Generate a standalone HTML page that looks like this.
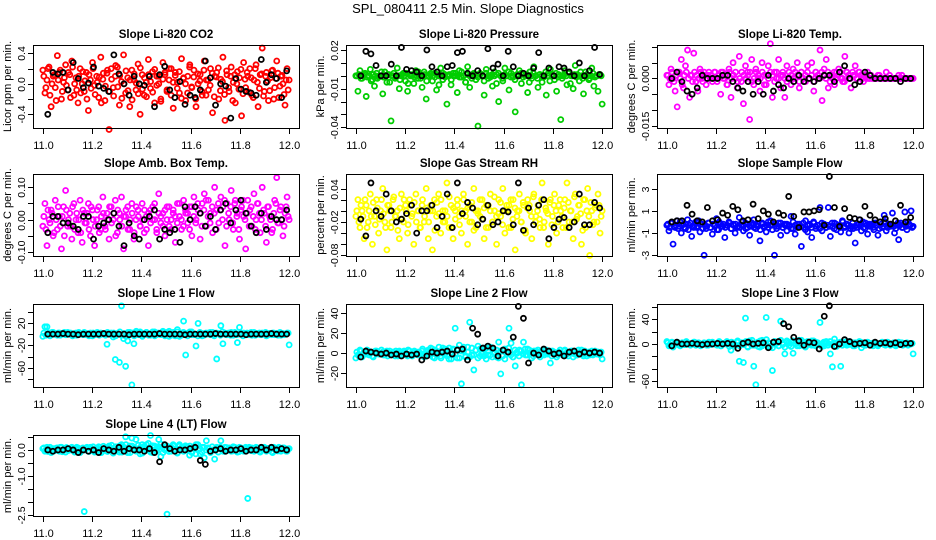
<!DOCTYPE html>
<html><head><meta charset="utf-8"><style>
html,body{margin:0;padding:0;background:#fff;}
svg{display:block;font-family:"Liberation Sans",Arial,sans-serif;}
</style></head><body>
<svg id="fig" width="936" height="540" viewBox="0 0 936 540">
<rect width="936" height="540" fill="#fff"/>
<text x="468" y="13" font-size="13" text-anchor="middle">SPL_080411  2.5 Min. Slope Diagnostics</text>
</svg>
<script>
// ---- data ----
const xTickLabels = ["11.0","11.2","11.4","11.6","11.8","12.0"];
const xTickValues = [11.0,11.2,11.4,11.6,11.8,12.0];
const co2Color = [0.18,-0.12,0.05,0.22,-0.3,0.1,-0.05,0.37,0.15,-0.2,0.02,0.25,-0.08,0.12,0.3,-0.15,0.08,-0.25,0.2,0.0,
-0.1,0.15,-0.35,0.05,0.28,-0.02,0.1,-0.18,0.35,0.06,-0.22,0.14,-0.6,0.2,-0.05,0.1,0.22,-0.28,0.03,0.38,
-0.12,0.08,-0.3,0.18,0.05,-0.08,0.26,-0.4,0.12,-0.15,0.02,0.32,-0.06,0.16,-0.25,0.1,0.0,-0.2,0.28,0.12,
-0.1,0.05,0.2,-0.32,0.15,0.02,-0.12,0.33,0.08,-0.22,0.1,0.25,-0.05,0.18,-0.3,0.0,0.12,-0.15,0.3,0.05,
-0.08,0.2,-0.38,0.1,0.15,-0.2,0.06,0.35,-0.48,0.12,-0.1,0.22,0.02,-0.25,0.16,0.08,-0.42,0.28,-0.05,0.1,
0.2,-0.15,0.05,0.25,-0.3,0.12,0.47,-0.1,0.15,-0.22,0.08,0.18,-0.05,0.3,-0.18,0.1,0.0,-0.28,0.2,0.05];
const co2Color2 = [0.1,-0.05,0.2,-0.15,0.0,0.12,-0.22,0.05,0.18,-0.1,0.08,-0.02,0.15,-0.18,0.22,0.0,-0.08,0.1,-0.12,0.16,
0.04,-0.2,0.12,-0.06,0.2,-0.14,0.02,0.09,-0.25,0.14,-0.03,0.18,-0.1,0.06,-0.16,0.24,-0.04,0.11,-0.19,0.0,
0.17,-0.09,0.05,-0.21,0.13,0.01,-0.13,0.21,-0.07,0.08,-0.17,0.12,0.03,-0.11,0.19,-0.02,0.1,-0.23,0.06,0.15,
-0.08,0.2,-0.15,0.02,0.11,-0.06,0.16,-0.19,0.07,0.0,-0.12,0.22,-0.04,0.09,-0.2,0.13,0.04,-0.1,0.18,-0.15,
0.05,-0.02,0.14,-0.17,0.09,0.21,-0.09,0.03,-0.14,0.17,-0.05,0.1,-0.22,0.12,0.0,-0.07,0.19,-0.13,0.06,0.15,
-0.11,0.08,-0.18,0.2,0.02,-0.06,0.13,-0.16,0.1,0.04,-0.09,0.17,-0.2,0.07,0.14,-0.03,0.11,-0.14,0.05,-0.08];
const co2Black = [-0.4,0.15,0.13,0.15,-0.08,0.28,0.07,-0.05,0.01,0.22,-0.03,-0.06,-0.1,0.38,0.13,0.0,-0.15,0.1,0.0,-0.02,0.1,-0.3,0.12,0.23,-0.08,-0.18,0.03,-0.27,-0.15,-0.18,-0.08,0.3,0.08,-0.28,0.0,-0.03,-0.45,0.07,-0.07,-0.1,-0.12,-0.15,0.32,0.02,0.12,0.07,-0.18,0.17];
const presColor = [0,-0.012,0.004,-0.002,0.001,-0.016,0.0,0.005,-0.003,-0.008,0.002,-0.001,0.0,-0.014,0.003,-0.005,0.001,-0.035,0.0,-0.002,
0.006,-0.01,0.0,0.002,-0.004,-0.012,0.001,0,-0.006,0.004,-0.002,0.0,-0.009,0.003,-0.018,0.0,0.001,-0.004,0.002,-0.011,
0,0.006,-0.003,0.001,-0.022,0.0,-0.007,0.002,0.0,-0.013,0.004,-0.001,0.0,-0.005,0.007,-0.009,0.0,0.001,-0.003,-0.039,
0.002,0.0,-0.015,0.005,-0.002,0.0,-0.008,0.003,0.001,-0.02,0.0,-0.004,0.006,0.0,-0.011,0.002,-0.001,-0.028,0.0,0.004,
-0.006,0.001,0.0,-0.013,0.003,-0.002,0.007,0.0,-0.009,0.001,-0.005,0.0,-0.015,0.002,0.005,0.0,-0.003,-0.012,0.001,-0.034,
0.0,0.004,-0.007,0.002,0.0,-0.01,0.008,0.001,-0.004,0.0,-0.014,0.003,0.0,-0.002,0.006,-0.008,0.0,-0.012,0.001,-0.022];
const presColor2 = [0,0.001,-0.002,0,0.002,-0.001,0,-0.004,0.001,0,-0.002,0,0.003,-0.001,0,0.001,-0.005,0,0.002,-0.001,
0,-0.003,0.001,0,0.002,-0.006,0,0.001,-0.001,0,0.003,-0.002,0,0.001,-0.004,0,0.002,0,-0.001,0.001,
-0.007,0,0.002,-0.001,0,0.001,-0.003,0,0.002,0,-0.001,0.003,0,-0.005,0.001,0,-0.002,0.002,0,-0.001,
0.001,0,-0.004,0.002,0,-0.001,0.001,0,-0.006,0.002,0,-0.002,0.001,0,0.003,-0.001,0,-0.003,0.001,0,
0.002,-0.001,0,0.001,-0.005,0,0.002,0,-0.002,0.001,0,-0.001,0.003,0,-0.004,0.001,0,0.002,-0.001,0,
-0.002,0.001,0,0.002,-0.006,0,0.001,-0.001,0,0.003,-0.002,0,0.001,-0.003,0,0.002,-0.001,0,0.001,0];
const presBlack = [0.0,0.019,0.017,0.008,0.0,0.0,0.009,0.0,0.022,0.005,0.004,0.003,0.0,0.02,0.007,0.003,0.0,0.007,0.008,0.018,0.019,0.002,0.0,0.004,0.0,0.021,0.006,0.009,0.0,0.019,0.007,0.0,0.002,0.0,0.006,0.018,0.0,0.006,0.0,0.007,0.006,0.003,0.0,0.01,0.0,0.004,0.022,0.001];
const tempColor = [0.001,-0.002,0.003,0.0,-0.004,-0.009,0.002,0.006,-0.003,0.004,0.009,-0.006,0.001,0.008,-0.001,-0.004,0.003,0.0,0.002,-0.002,
0.001,0.0,-0.001,0.002,0.0,0.001,-0.005,0.002,0.0,-0.002,0.003,-0.006,0.005,0.0,-0.003,0.007,-0.001,-0.008,0.004,0.002,
-0.013,0.006,-0.002,0.003,0.0,-0.004,0.005,0.001,-0.002,0.004,0.011,-0.006,0.002,0.0,0.006,-0.003,0.001,-0.006,0.004,0.0,
-0.002,0.003,0.0,0.005,-0.003,0.002,0.0,-0.001,0.004,0.0,0.005,-0.004,0.002,0.0,0.009,-0.007,0.003,0.006,-0.003,0.001,
0.0,-0.002,0.002,0.003,0.0,-0.001,0.007,0.002,0.0,-0.003,0.001,0.004,0.0,0.002,0.0,-0.001,0.001,0.002,0.0,0.0,
0.0,0.0,0.001,0.0,0.0,0.0,0.002,0.0,0.0,0.0,0.0,0.0,0.001,0.0,0.0,0.0,0.0,0.0,0.0,0.0];
const tempColor2 = [0.001,0,0.002,-0.001,0.001,0.002,0,-0.002,0.001,0.002,0,0.001,-0.001,0.002,0.001,0,0.002,-0.001,0.001,0,
0.002,0.001,0,0.002,-0.001,0.001,0.002,0,0.001,-0.002,0.002,0,0.001,0.002,-0.001,0,0.002,0.001,0,0.001,
0.002,-0.001,0,0.002,0.001,0,0.002,-0.002,0.001,0,0.002,0.001,-0.001,0.002,0,0.001,0.002,0,-0.001,0.002,
0.001,0,0.002,0.001,-0.001,0.002,0,0.001,0.002,0,0.001,-0.001,0.002,0.001,0,0.002,0.001,0,0.002,-0.001,
0.001,0.002,0,0.001,0.002,0,-0.001,0.002,0.001,0,0.002,0.001,0,0.002,0.001,0,0.001,0,0,0.001,
0,0,0,0.001,0,0,0,0,0.001,0,0,0,0,0,0.001,0,0,0,0,0];
const tempBlack = [0.0,0.002,-0.001,-0.004,-0.005,-0.003,0.001,0.0,0.0,0.0,0.001,0.001,-0.001,-0.003,-0.004,-0.001,-0.005,-0.001,-0.005,0.001,-0.004,-0.002,-0.003,0.0,-0.001,0.001,-0.001,0.0,-0.001,0.0,0.001,0.001,-0.001,0.002,0.004,0.0,-0.002,-0.001,0.002,0.001,0.0,0.0,0.0,0.0,0.0,-0.001,0.0,0.0];
const ambColor = [-0.02,0.05,-0.08,0.0,0.03,-0.05,0.06,-0.03,0.01,-0.09,0.04,0.09,-0.02,0.02,-0.06,0.05,0.0,-0.04,0.06,-0.07,
0.02,-0.01,0.05,-0.05,0.03,-0.08,0.0,0.04,-0.03,0.07,-0.02,0.02,-0.06,0.04,0.0,0.06,-0.04,0.02,0.07,-0.09,
0.01,0.04,-0.03,0.05,-0.06,0.0,0.03,-0.02,0.05,-0.04,0.01,-0.08,0.03,0.0,0.05,-0.03,0.08,-0.01,0.02,-0.05,
0.04,-0.02,0.0,0.03,-0.07,0.05,0.01,-0.03,0.06,0.02,-0.01,0.04,-0.05,0.07,0.0,0.03,-0.06,0.05,0.08,-0.02,
0.06,0.02,-0.04,0.1,0.03,-0.01,0.07,0.04,-0.08,0.05,0.0,0.09,-0.03,0.06,0.02,-0.06,0.04,0.01,-0.09,0.06,
0.03,-0.02,0.08,0.0,0.05,-0.04,0.1,0.02,-0.07,0.04,0.0,-0.03,0.06,0.13,-0.01,0.04,-0.05,0.02,0.07,0.0];
const ambColor2 = [0.01,-0.03,0.03,-0.01,0.02,-0.04,0.0,0.04,-0.02,0.01,-0.05,0.03,0.0,-0.02,0.04,-0.03,0.02,0.0,-0.04,0.03,
-0.01,0.02,-0.03,0.04,0.0,-0.02,0.03,-0.04,0.01,0.02,-0.03,0.0,0.04,-0.01,0.02,-0.05,0.03,0.0,-0.02,0.01,
0.03,-0.03,0.0,0.02,-0.04,0.04,0.01,-0.02,0.0,0.03,-0.03,0.02,-0.01,0.04,0.0,-0.04,0.02,0.01,-0.02,0.03,
0.0,0.04,-0.03,0.02,0.01,-0.01,0.05,0.0,-0.02,0.03,0.02,-0.03,0.04,0.01,-0.01,0.05,0.02,-0.02,0.03,0.06,
0.01,-0.01,0.04,0.02,-0.03,0.05,0.03,0.0,0.06,-0.02,0.02,0.04,-0.01,0.05,0.01,-0.03,0.03,0.06,0.0,0.02,
-0.02,0.04,0.01,-0.03,0.05,0.02,0.0,0.03,-0.02,0.04,0.01,-0.04,0.02,0.05,-0.01,0.03,0.0,-0.02,0.04,0.01];
const ambBlack = [-0.04,0.01,0.01,-0.01,-0.01,-0.02,-0.03,0.01,0.01,-0.06,-0.02,-0.01,0.0,0.02,-0.02,-0.08,-0.01,-0.05,-0.06,0.0,0.01,0.03,-0.06,-0.03,-0.04,-0.03,-0.07,0.04,0.0,0.04,0.02,-0.02,0.01,-0.03,0.03,0.05,-0.01,0.03,0.06,0.02,-0.02,-0.04,0.02,-0.03,0.01,0.0,0.0,0.03];
const rhColor = [-0.01,0.02,-0.03,0.0,-0.05,0.01,-0.02,0.03,-0.06,-0.01,0.02,-0.04,0.0,0.04,-0.02,-0.07,0.01,-0.03,0.02,-0.01,
0.0,-0.05,0.03,-0.02,0.01,-0.04,0.02,-0.01,-0.06,0.03,0.0,-0.03,0.01,-0.02,0.04,-0.05,0.0,-0.07,0.02,-0.01,
0.03,-0.04,0.0,-0.02,0.05,-0.03,0.01,-0.05,0.0,0.02,-0.01,-0.04,0.03,0.0,-0.06,0.01,-0.02,0.04,-0.03,0.0,
-0.01,0.02,-0.05,0.01,-0.03,0.03,-0.02,0.0,-0.06,0.02,-0.01,0.04,-0.04,0.0,0.01,-0.03,0.02,-0.07,0.0,0.03,
-0.02,0.01,-0.04,0.02,0.0,-0.05,0.03,-0.01,0.01,-0.03,0.05,-0.02,0.0,-0.06,0.02,-0.01,0.03,-0.04,0.01,0.0,
-0.03,0.02,0.05,-0.02,0.0,-0.05,0.03,-0.01,0.01,-0.06,0.02,-0.03,0.04,-0.08,0.0,-0.02,0.01,0.03,-0.04,0.0];
const rhColor2 = [0.0,-0.02,0.01,-0.01,0.02,-0.03,0.0,-0.01,0.015,-0.025,0.005,-0.015,0.02,-0.005,-0.03,0.01,0.0,-0.02,0.025,-0.01,
-0.035,0.005,-0.015,0.02,0.0,-0.025,0.01,-0.005,0.015,-0.02,0.0,-0.03,0.02,-0.01,0.005,-0.02,0.01,0.0,-0.035,0.015,
-0.005,0.02,-0.02,0.0,-0.01,0.025,-0.03,0.005,-0.015,0.01,-0.025,0.0,0.02,-0.01,0.005,-0.02,0.015,-0.035,0.0,-0.005,
0.02,-0.015,0.005,-0.03,0.01,0.0,-0.02,0.025,-0.01,-0.005,0.015,-0.025,0.0,0.01,-0.03,0.02,-0.015,0.005,-0.01,0.0,
-0.02,0.015,-0.035,0.005,0.01,-0.01,0.025,-0.02,0.0,-0.015,0.02,-0.03,0.005,-0.005,0.015,-0.025,0.01,0.0,-0.02,0.02,
-0.01,0.005,-0.03,0.015,0.0,-0.02,0.025,-0.015,0.01,-0.005,-0.035,0.02,0.0,-0.01,0.015,-0.025,0.005,-0.02,0.01,-0.01];
const rhBlack = [-0.015,-0.045,0.05,0.0,-0.01,0.03,0.0,-0.02,-0.015,-0.005,0.01,-0.04,0.0,0.0,0.01,-0.03,-0.01,0.03,-0.03,0.05,-0.005,0.015,0.005,-0.025,-0.015,0.01,-0.025,-0.02,0.0,-0.002,-0.025,0.05,-0.035,0.005,-0.025,0.01,0.02,-0.05,-0.03,-0.015,-0.012,-0.03,-0.02,0.03,-0.025,-0.025,0.015,0.005];
const flowColor = [-0.3,-0.8,-0.1,-2.0,-0.5,0.1,-0.4,-1.0,-0.2,-0.6,0.2,-0.3,-1.3,-0.5,0.0,-0.4,-0.9,-0.2,-3.0,-0.6,
-0.1,-0.5,-1.1,-0.3,0.3,-0.7,-0.2,-0.4,-1.4,-0.3,0.0,-0.6,-0.2,-1.0,-0.5,0.4,-0.3,-0.8,-0.1,-0.5,
-1.2,-0.3,0.2,-0.6,-0.4,-1.7,-0.2,-0.5,-0.9,0.0,-0.3,-0.7,-3.0,-0.4,-0.1,-1.2,-0.5,-0.2,-0.8,-0.3,
0.5,-0.6,-1.1,-0.2,-0.4,-2.2,-0.5,0.1,-0.9,-0.3,-1.4,-0.1,-0.6,-0.3,1.3,-0.8,-0.2,-0.5,1.3,-1.3,
-0.4,-0.1,-0.7,-0.3,-0.9,0.0,-0.5,-0.2,-1.0,-0.4,-0.6,-1.9,-0.3,0.2,-0.8,-0.5,-0.1,-1.1,-0.4,-0.2,
-0.7,-0.3,-1.2,0.0,-0.5,0.6,-0.8,-0.2,-0.4,0.8,-1.0,-0.3,-1.6,-0.1,-0.5,0.9,-0.7,-0.2,1.0,-0.4];
const flowColor2 = [-0.2,-0.5,-0.1,-0.4,-0.3,-0.6,0.0,-0.3,-0.5,-0.2,-0.7,-0.1,-0.4,-0.3,-0.5,0.1,-0.2,-0.6,-0.3,-0.4,
-0.1,-0.5,-0.2,-0.3,-0.7,0.0,-0.4,-0.2,-0.5,-0.3,-0.1,-0.6,-0.3,-0.2,-0.4,-0.5,0.0,-0.3,-0.6,-0.2,
-0.4,-0.1,-0.5,-0.3,-0.2,-0.7,-0.1,-0.4,-0.3,-0.5,0.1,-0.3,-0.2,-0.6,-0.4,-0.1,-0.5,-0.3,-0.2,-0.4,
-0.6,0.0,-0.3,-0.5,-0.2,-0.4,-0.1,-0.7,-0.3,-0.2,-0.5,0.0,-0.4,-0.3,-0.6,-0.1,-0.2,-0.5,-0.3,-0.4,
-0.1,-0.6,-0.2,-0.3,-0.5,0.1,-0.4,-0.2,-0.3,-0.6,-0.1,-0.4,-0.5,-0.2,-0.3,0.0,-0.6,-0.3,-0.2,-0.4,
-0.5,-0.1,-0.3,-0.6,-0.2,-0.4,0.0,-0.5,-0.3,-0.2,-0.4,-0.6,-0.1,-0.3,-0.5,-0.2,-0.4,0.0,-0.3,-0.5];
const flowBlack = [0.0,0.1,0.1,1.5,0.7,0.1,0.0,1.3,0.1,0.2,0.8,0.6,1.4,1.1,0.1,0.2,1.6,0.3,1.0,0.7,0.0,0.8,0.6,2.3,0.5,-0.5,0.9,0.9,1.0,1.1,-0.3,4.1,1.3,-0.4,1.2,0.4,0.3,0.2,1.4,0.6,0.2,0.0,0.3,-0.2,0.1,1.5,0.0,0.4];
const line1Color = [-4,13,13,2,-1,3,0,-2,2,1, 0,-1,3,1,-2,0,2,-1,1,0, 3,-1,0,2,-3,1,0,-1,2,0,
1,-18,0,2,-5,-45,1,-50,50,-8, -57,-12,3,-90,-17,2,0,4,-1,1, 3,0,-2,1,4,-1,2,0,3,-3,
1,5,-2,3,0,8,-4,2,23,-37, 1,4,-1,0,-21,19,2,-3,1,0, 2,-1,3,0,-44,1,15,-17,2,-1,
0,3,-2,1,-15,12,0,2,-1,1, 0,-2,3,1,0,-1,2,0,-3,1, 0,2,-1,1,0,-2,1,0,2,-19];
const line1Color2 = [2,-2,1,-3,3,0,-1,2,-2,1,3,-1,0,2,-3,1,-2,3,0,-1,2,1,-3,0,2,-1,3,-2,1,0,
-2,3,1,-1,2,-3,0,4,-2,1,-4,3,0,2,-3,5,-1,2,-4,1,3,-2,0,4,-3,2,1,-1,5,-2,
3,-4,1,2,-3,4,0,-2,3,1,-3,2,4,-1,0,-3,3,1,-2,2,0,3,-1,-3,2,1,-2,4,0,-1,
2,-2,1,3,-1,0,2,-3,1,2,-1,3,0,-2,1,2,-1,0,3,-2,1,-1,2,0,-2,3,1,-1,0,2];
const line1Black = [0,0,0,1,0,0,-1,0,0,0,0,1,0,0,0,0,-1,0,0,0,0,0,1,0,0,0,0,-1,0,0,0,0,0,1,0,0,0,0,0,-1,0,0,0,0,1,0,0,0];
const line2Color = [-5,-2,3,-4,1,-1,2,0,-3,1, 2,-1,0,1,-2,2,0,-1,1,-3, 0,2,-2,1,0,-3,2,-1,0,1,
-2,0,2,-4,1,3,-1,4,-5,2, 0,-3,5,-1,3,-6,1,4,25,-5, 8,-31,2,-4,6,31,-2,-17,3,7,
-3,1,5,-6,2,-2,4,0,-4,11, -21,3,-6,1,25,10,-4,-13,0,3, -32,11,-2,4,0,-5,2,-1,3,-4,
1,-2,3,0,-10,2,-1,-4,1,0, -2,3,-1,0,2,-4,1,-2,0,3, -3,1,0,-2,2,-1,0,1,-2,-6];
const line2Color2 = [1,-3,2,-1,0,3,-2,1,-4,2,0,-1,3,-2,1,-3,2,0,-1,2,-3,1,0,2,-2,3,-1,-3,2,0,
1,-2,4,-3,2,-1,5,-4,3,-2,6,-5,2,4,-3,5,-6,3,-1,4,-5,2,6,-3,1,-4,5,-2,3,-5,
4,-1,-3,5,-2,6,-4,1,3,-5,2,-3,4,-1,5,-2,-4,3,1,-3,2,-1,4,-2,3,0,-3,2,-1,1,
-2,3,0,-1,2,-3,1,0,-2,3,-1,2,0,-3,1,2,-1,-2,3,0,-1,2,-3,1,0,-2,2,-1,0,1];
const line2Black = [-4,2,1,0,-1,0,-2,-1,-3,-1, -2,-1,-7,-3,1,0,1,2,-1,3, 4,-7,25,19,5,7,5,-3,3,1, 16,47,35,-10,0,-2,4,2,-1,0, -3,1,2,-1,1,0,1,0];
const line3Color = [4,-3,2,-5,0,3,-2,1,0,-1, 2,-1,0,3,-2,1,0,-1,2,0, -2,1,3,0,-1,2,-3,0,1,4,
0,-10,2,-1,3,-28,1,-30,42,-4, 5,-2,-36,-66,3,-5,6,0,43,2, -4,-43,4,1,-3,37,2,-16,5,-2,
3,-15,0,4,-3,6,1,-4,2,0, 5,-2,3,-1,35,0,-3,4,1,-16, -37,8,-4,2,-36,3,0,-2,4,1,
-3,2,0,4,-6,1,-2,3,0,-1, 2,0,-3,1,3,-1,0,2,-2,1, 0,-1,3,0,-2,1,2,-1,0,-16];
const line3Color2 = [2,-1,3,-2,1,0,-3,2,-1,4,0,-2,1,3,-1,2,-3,0,1,-2,3,-1,2,0,-2,4,-3,1,0,2,
-4,3,1,-2,5,-3,2,-1,4,-5,3,6,-2,1,-4,5,-3,2,7,-4,1,-6,4,2,-3,6,-1,-5,3,2,
-4,5,1,-3,6,-2,3,-5,4,1,-2,5,-3,2,0,-4,3,1,-2,4,-1,2,-3,0,3,-2,1,4,-1,0,
2,-3,1,0,3,-1,-2,2,0,1,-3,2,-1,0,2,1,-2,3,0,-1,2,-3,1,0,2,-1,1,-2,0,1];
const line3Black = [-3,3,0,0,1,0,-1,0,0,1, 0,1,0,-7,1,3,0,1,2,-6, 3,4,33,28,11,5,-2,3,2,-8, 45,62,-4,0,7,4,0,1,2,-2, 3,1,2,0,2,-1,1,1];
const line4Color = [0.05,-0.05,0.1,0.0,-0.1,0.05,0.0,0.08,-0.05,0.1, 0.0,-0.08,0.05,0.0,0.1,-0.05,0.02,0.08,-0.1,0.0,
-2.35,0.05,-0.05,0.1,0.0,-0.08,0.05,0.12,-0.1,0.0, 0.08,-0.05,0.15,0.0,-0.12,0.1,0.05,-0.08,0.2,0.0,
0.5,-0.1,0.15,0.45,0.05,0.4,0.0,-0.15,0.2,0.1, 0.0,0.25,0.55,-0.1,0.15,0.05,0.4,-0.25,0.1,0.0,
-2.45,0.1,-0.05,0.15,0.0,-0.1,0.2,0.05,-0.05,0.1, 0.0,0.15,-0.1,0.05,0.2,0.0,-0.15,0.1,-0.3,0.35,
0.05,-0.1,0.0,-0.35,0.1,0.05,0.35,-0.05,0.1,0.0, 0.08,-0.05,0.12,0.0,-0.08,0.1,0.05,-0.05,0.1,-1.85,
0.0,0.08,-0.05,0.1,0.0,-0.08,0.05,0.1,-0.05,0.0, 0.08,-0.1,0.05,0.0,0.1,-0.05,0.08,0.0,-0.05,0.05];
const line4Color2 = [0.08,0.0,-0.06,0.1,0.03,-0.04,0.07,0.0,0.1,-0.07,0.04,0.09,-0.02,0.06,0.0,-0.08,0.1,0.03,-0.05,0.08,
0.0,0.1,-0.06,0.05,0.12,-0.03,0.08,0.0,-0.1,0.14,0.05,-0.06,0.1,0.18,-0.04,0.12,0.0,0.16,-0.08,0.1,
0.2,0.05,-0.1,0.15,0.08,-0.05,0.18,0.1,-0.12,0.14,0.2,0.0,-0.08,0.16,0.1,-0.04,0.12,0.22,-0.1,0.06,
0.15,-0.06,0.1,0.2,0.0,-0.12,0.14,0.08,-0.05,0.16,0.1,-0.2,0.06,0.12,-0.15,0.2,0.05,-0.08,0.1,0.0,
0.08,-0.05,0.12,0.0,0.06,-0.08,0.1,0.03,-0.06,0.09,0.0,0.07,-0.04,0.1,0.02,-0.07,0.08,0.0,-0.05,0.06,
0.1,-0.03,0.05,0.0,0.08,-0.06,0.04,0.09,-0.02,0.06,0.0,-0.07,0.1,0.03,-0.04,0.07,0.0,0.08,-0.05,0.04];
const line4Black = [0,-0.05,0.0,0.0,0.05,0.0,-0.1,0.0,-0.05,0.0,-0.1,0.05,0.0,-0.05,0.1,-0.05,0.05,0.0,0.0,-0.05,0.05,-0.1,-0.45,0.2,0.05,-0.05,0.0,0.0,0.05,0.1,-0.4,-0.55,-0.05,0.0,0.05,-0.05,0.0,0.0,0.05,-0.05,0.0,0.0,0.1,0.0,0.1,0.0,0.05,0.0];

// ---- layout / panels ----
const NS = "http://www.w3.org/2000/svg";
const svg = document.getElementById('fig');
const colsL = [33, 346, 657], boxW = 266;
const rowsT = [45, 174, 304, 435], boxH = [83, 82, 83, 81];
const panels = [
 {name:"co2",title:"Slope Li-820 CO2",ylab:"Licor ppm per min.",col:"#ff0000",c:co2Color,c2:co2Color2,b:co2Black,y0:-0.58,y1:0.51,ticks:[-0.4,-0.2,0,0.2,0.4],labs:{"-0.4":"-0.4","0":"0.0","0.4":"0.4"},r:0,k:0},
 {name:"pressure",title:"Slope Li-820 Pressure",ylab:"kPa per min.",col:"#00cd00",c:presColor,c2:presColor2,b:presBlack,y0:-0.0405,y1:0.0239,ticks:[-0.04,-0.03,-0.02,-0.01,0,0.01,0.02],labs:{"-0.04":"-0.04","-0.01":"-0.01","0.02":"0.02"},r:0,k:1},
 {name:"temp",title:"Slope Li-820 Temp.",ylab:"degrees C per min.",col:"#ff00ff",c:tempColor,c2:tempColor2,b:tempBlack,y0:-0.0157,y1:0.0106,ticks:[-0.015,-0.01,-0.005,0,0.005,0.01],labs:{"-0.015":"-0.015","0":"0.000"},r:0,k:2},
 {name:"amb-box-temp",title:"Slope Amb. Box Temp.",ylab:"degrees C per min.",col:"#ff00ff",c:ambColor,c2:ambColor2,b:ambBlack,y0:-0.112,y1:0.141,ticks:[-0.1,-0.05,0,0.05,0.1],labs:{"-0.1":"-0.10","0":"0.00","0.1":"0.10"},r:1,k:0},
 {name:"gas-rh",title:"Slope Gas Stream RH",ylab:"percent per min.",col:"#ffff00",c:rhColor,c2:rhColor2,b:rhBlack,y0:-0.081,y1:0.066,ticks:[-0.08,-0.06,-0.04,-0.02,0,0.02,0.04],labs:{"-0.08":"-0.08","-0.02":"-0.02","0.04":"0.04"},r:1,k:1},
 {name:"sample-flow",title:"Slope Sample Flow",ylab:"ml/min per min.",col:"#0000ff",c:flowColor,c2:flowColor2,b:flowBlack,y0:-3.07,y1:4.32,ticks:[-3,-1,1,3],labs:{"-3":"-3","-1":"-1","1":"1","3":"3"},r:1,k:2},
 {name:"line1-flow",title:"Slope Line 1 Flow",ylab:"ml/min per min.",col:"#00ffff",c:line1Color,c2:line1Color2,b:line1Black,y0:-93.7,y1:53.4,ticks:[-80,-60,-40,-20,0,20,40],labs:{"-60":"-60","-20":"-20","20":"20"},r:2,k:0},
 {name:"line2-flow",title:"Slope Line 2 Flow",ylab:"ml/min per min.",col:"#00ffff",c:line2Color,c2:line2Color2,b:line2Black,y0:-34.2,y1:49.4,ticks:[-20,0,20,40],labs:{"-20":"-20","0":"0","20":"20","40":"40"},r:2,k:1},
 {name:"line3-flow",title:"Slope Line 3 Flow",ylab:"ml/min per min.",col:"#00ffff",c:line3Color,c2:line3Color2,b:line3Black,y0:-69.7,y1:64.9,ticks:[-60,-40,-20,0,20,40,60],labs:{"-60":"-60","0":"0","40":"40"},r:2,k:2},
 {name:"line4-flow",title:"Slope Line 4 (LT) Flow",ylab:"ml/min per min.",col:"#00ffff",c:line4Color,c2:line4Color2,b:line4Black,y0:-2.52,y1:0.57,ticks:[-2.5,-2,-1.5,-1,-0.5,0,0.5],labs:{"-2.5":"-2.5","-1":"-1.0","0":"0.0"},r:3,k:0}
];

function mk(tag, attrs, parent){const e=document.createElementNS(NS,tag);for(const a in attrs)e.setAttribute(a,attrs[a]);(parent||svg).appendChild(e);return e;}

panels.forEach(p=>{
  const L=colsL[p.k], T=rowsT[p.r], H=boxH[p.r], R=L+boxW, B=T+H;
  const sx=v=>L+(v-10.96)/(12.04-10.96)*boxW;
  const sy=v=>B-(v-p.y0)/(p.y1-p.y0)*H;
  const g=mk('g',{});
  
  
  const t=mk('text',{x:(L+R)/2,y:T-7,'font-size':11.5,'font-weight':'bold','text-anchor':'middle'},g);
  t.textContent=p.title;
  
  
  const yl=mk('text',{transform:`translate(${L-22},${(T+B)/2}) rotate(-90)`,'font-size':11,'text-anchor':'middle'},g);
  yl.textContent=p.ylab;
  
  
  const pts=mk('g',{fill:'none','stroke-width':1.8},g);
  
  
  p.c2.forEach((v,i)=>{
    const c=mk('circle',{cx:sx(11.004+i*0.992/(p.c2.length-1)),cy:sy(v),r:2.5,stroke:p.col},pts);
    
    
  });
  p.c.forEach((v,i)=>{
    const c=mk('circle',{cx:sx(11+i/(p.c.length-1)),cy:sy(v),r:2.5,stroke:p.col},pts);
    
    
  });
  p.b.forEach((v,i)=>{
    const c=mk('circle',{cx:sx(11.02+i*0.97/(p.b.length-1)),cy:sy(v),r:2.5,stroke:'#000'},pts);
    
    
  });
  const box=mk('rect',{x:L+0.5,y:T+0.5,width:boxW,height:H,fill:'none',stroke:'#000','stroke-width':1},g);
  
  
  const xa=mk('g',{stroke:'#000','stroke-width':1},g);
  
  
  xTickValues.forEach((v,i)=>{
    const x=Math.round(sx(v))+0.5;
    mk('line',{x1:x,x2:x,y1:B+0.5,y2:B+6},xa);
    const tl=mk('text',{x:x,y:B+21,'font-size':11,'text-anchor':'middle',stroke:'none',fill:'#000'},xa);
    tl.textContent=xTickLabels[i];
    
    
  });
  const ya=mk('g',{stroke:'#000','stroke-width':1},g);
  
  
  p.ticks.forEach(v=>{
    const y=Math.round(sy(v))+0.5;
    mk('line',{x1:L-5,x2:L+0.5,y1:y,y2:y},ya);
    const key=String(v);
    if(p.labs[key]!==undefined){
      const tl=mk('text',{transform:`translate(${L-8},${y}) rotate(-90)`,'font-size':10.5,'text-anchor':'middle',stroke:'none',fill:'#000'},ya);
      tl.textContent=p.labs[key];
      
      
    }
  });
});
</script>
</body></html>
